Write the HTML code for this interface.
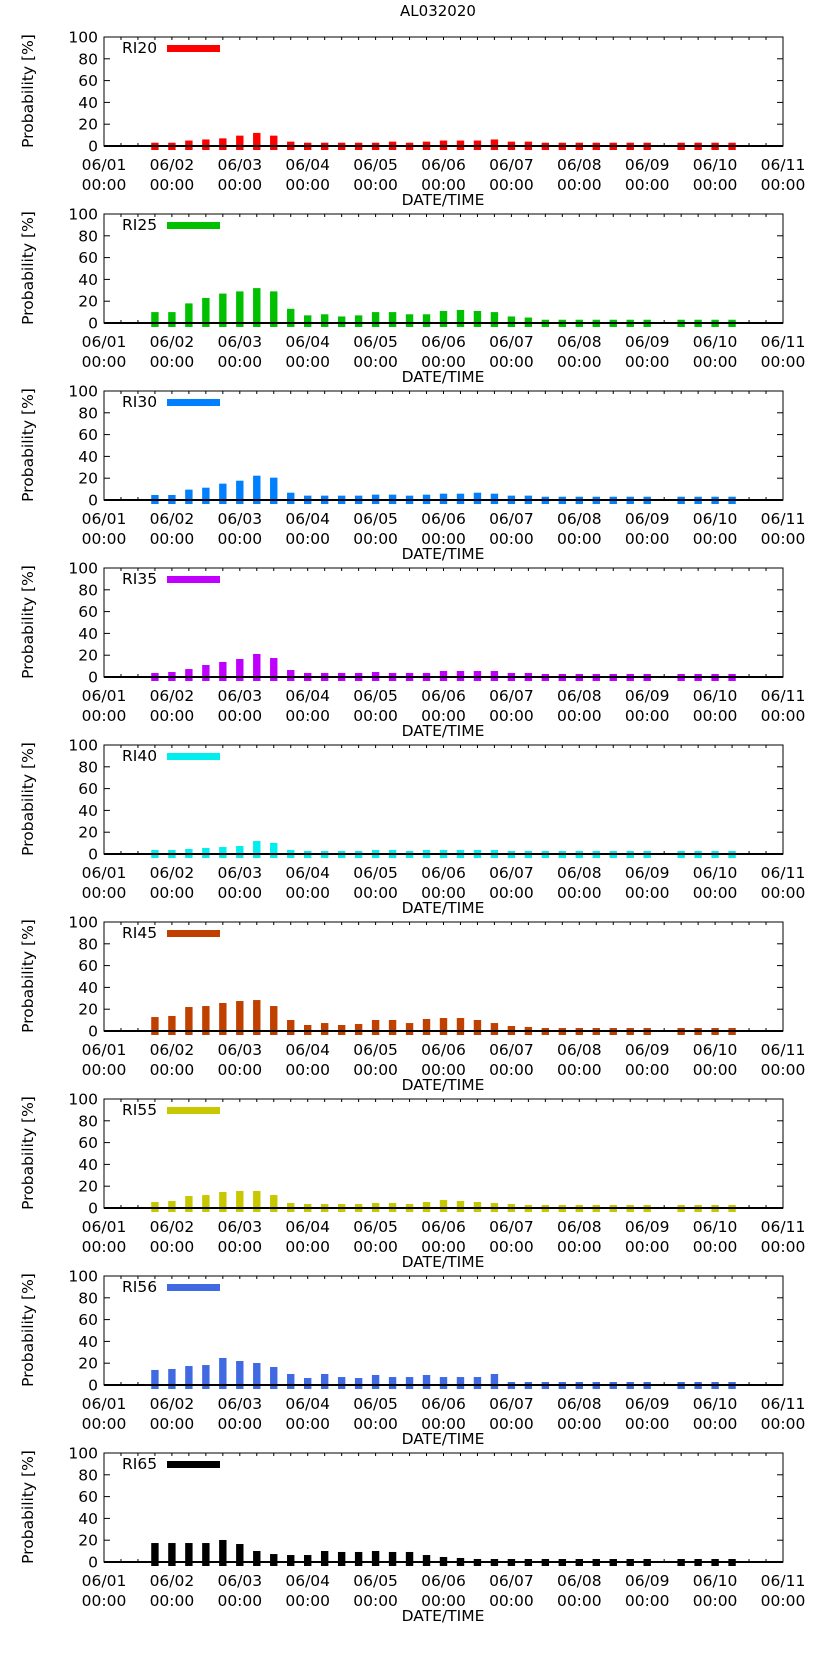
<!DOCTYPE html>
<html><head><meta charset="utf-8">
<style>
html,body{margin:0;padding:0;background:#fff;}
svg{display:block;font-family:"DejaVu Sans","Liberation Sans",sans-serif;}
</style></head>
<body>
<svg id="chart" width="822" height="1653" viewBox="0 0 822 1653" xmlns="http://www.w3.org/2000/svg">
<text x="438" y="16" font-size="15" text-anchor="middle">AL032020</text>
</svg>
<script>
const seriesNames = ["RI20","RI25","RI30","RI35","RI40","RI45","RI55","RI56","RI65"];
const seriesColors = ["#ff0000","#00c000","#0080ff","#c000ff","#00eeee","#c04000","#c8c800","#4169e1","#000000"];
const dayLabels = ["06/01","06/02","06/03","06/04","06/05","06/06","06/07","06/08","06/09","06/10","06/11"];
const yTicks = [0,20,40,60,80,100];
// bar times: hours since 06/01 00:00 (every 6h from 06/01 18:00), null value = missing
const barHours = [18,24,30,36,42,48,54,60,66,72,78,84,90,96,102,108,114,120,126,132,138,144,150,156,162,168,174,180,186,192,198,204,210,216,222];
const ri20 = [3,3,5,6,7,9.5,12,9.5,4,3,3,3,3,3,4,3,4,5,5,5,6,4,4,3,3,3,3,3,3,3,null,3,3,3,3];
const ri25 = [10,10,18,23,27,29,32,29,13,7,8,6,7,10,10,8,8,11,12,11,10,6,5,3,3,3,3,3,3,3,null,3,3,3,3];
const ri30 = [4.6,4.6,9.5,11.3,15,17.7,22.3,20.5,6.7,4,4,4,4,4.9,4.9,4,4.9,5.8,5.8,6.7,5.8,4,4,3,3,3,3,3,3,3,null,3,3,3,3];
const ri35 = [3.7,4.6,7.3,11,13.8,16.5,21.1,17.4,6.4,3.7,3.7,3.7,3.7,4.6,3.7,3.7,3.7,5.5,5.5,5.5,5.5,3.7,3.7,2.75,2.75,2.75,2.75,2.75,2.75,2.75,null,2.75,2.75,2.75,2.75];
const ri40 = [3.7,3.7,4.6,5.5,6.4,7.3,11.9,10.1,3.7,2.75,2.75,2.75,2.75,3.7,3.7,2.75,3.7,3.7,3.7,3.7,3.7,2.75,2.75,2.75,2.75,2.75,2.75,2.75,2.75,2.75,null,2.75,2.75,2.75,2.75];
const ri45 = [12.8,13.8,22,22.9,25.7,27.5,28.4,22.9,10.1,5.5,7.3,5.5,6.4,10.1,10.1,7.3,11,11.9,11.9,10.1,7.3,4.6,3.7,2.75,2.75,2.75,2.75,2.75,2.75,2.75,null,2.75,2.75,2.75,2.75];
const ri55 = [5.5,6.4,11,11.9,14.7,15.6,15.6,11.9,4.6,3.7,3.7,3.7,3.7,4.6,4.6,3.7,5.5,7.3,6.4,5.5,4.6,3.7,2.75,2.75,2.75,2.75,2.75,2.75,2.75,2.75,null,2.75,2.75,2.75,2.75];
const ri56 = [13.8,14.7,17.4,18.3,24.8,22,20.2,16.5,10.1,6.4,10.1,7.3,6.4,9.2,7.3,7.3,9.2,7.3,7.3,7.3,10.1,2.75,2.75,2.75,2.75,2.75,2.75,2.75,2.75,2.75,null,2.75,2.75,2.75,2.75];
const ri65 = [17.4,17.4,17.4,17.4,20.2,16.5,10.1,7.3,6.4,6.4,10.1,9.2,9.2,10.1,9.2,9.2,6.4,4.6,3.7,2.75,2.75,2.75,2.75,2.75,2.75,2.75,2.75,2.75,2.75,2.75,null,2.75,2.75,2.75,2.75];
const allSeries = [ri20,ri25,ri30,ri35,ri40,ri45,ri55,ri56,ri65];

const NS = "http://www.w3.org/2000/svg";
const svg = document.getElementById("chart");
const L = 104, R = 783, Z0 = 146, PH = 109, STEP = 177;
function xScale(h){ return L + (R - L) * h / 240; }
function mk(tag, attrs, parent){
  const e = document.createElementNS(NS, tag);
  for (const k in attrs) e.setAttribute(k, attrs[k]);
  (parent || svg).appendChild(e);
  return e;
}
allSeries.forEach((vals, p) => {
  const zero = Z0 + p * STEP;
  const top = zero - PH;
  const yScale = v => zero - v * PH / 100;
  const g = mk("g", {});
  
  
  // x ticks every 6h (drawn under bars)
  for (let h = 6; h < 240; h += 6) {
    const x = xScale(h);
    mk("line", {x1: x, x2: x, y1: zero, y2: zero - 3, stroke: "#000"}, g);
    mk("line", {x1: x, x2: x, y1: top, y2: top + 3, stroke: "#000"}, g);
  }
  // bars
  vals.forEach((v, i) => {
    if (v === null) return;
    const x = xScale(barHours[i]);
    const y = yScale(v);
    const b = mk("rect", {x: x - 3.7, y: y, width: 7.4, height: zero + 4 - y, fill: seriesColors[p]}, g);
    
    
  });
  // frame
  const fr = mk("rect", {x: L, y: top, width: R - L, height: PH, fill: "none", stroke: "#000", "stroke-width": 1}, g);
  
  
  const ax = mk("line", {x1: L, x2: R, y1: zero, y2: zero, stroke: "#000", "stroke-width": 2}, g);
  
  
  // y ticks
  yTicks.forEach(t => {
    const y = yScale(t);
    mk("line", {x1: L, x2: L + 6, y1: y, y2: y, stroke: "#000"}, g);
    mk("line", {x1: R - 6, x2: R, y1: y, y2: y, stroke: "#000"}, g);
    const tl = mk("text", {x: 98, y: y + 5.5, "font-size": 15.5, "text-anchor": "end"}, g);
    tl.textContent = t;
    
    
  });
  dayLabels.forEach((d, i) => {
    const x = xScale(i * 24);
    const t1 = mk("text", {x: x, y: zero + 24, "font-size": 15.5, "text-anchor": "middle"}, g);
    t1.textContent = d;
    
    
    const t2 = mk("text", {x: x, y: zero + 44, "font-size": 15.5, "text-anchor": "middle"}, g);
    t2.textContent = "00:00";
    
    
  });
  const xt = mk("text", {x: 443, y: zero + 59, "font-size": 15.5, "text-anchor": "middle"}, g);
  xt.textContent = "DATE/TIME";
  
  
  const yt = mk("text", {x: 0, y: 0, "font-size": 15.5, "text-anchor": "middle", transform: "translate(33," + (zero - 55) + ") rotate(-90)"}, g);
  yt.textContent = "Probability [%]";
  
  
  // legend
  const lt = mk("text", {x: 122, y: top + 16, "font-size": 15.5}, g);
  lt.textContent = seriesNames[p];
  
  
  const ls = mk("rect", {x: 167, y: top + 8, width: 53, height: 7, fill: seriesColors[p]}, g);
  
  
});
</script>
</body></html>
